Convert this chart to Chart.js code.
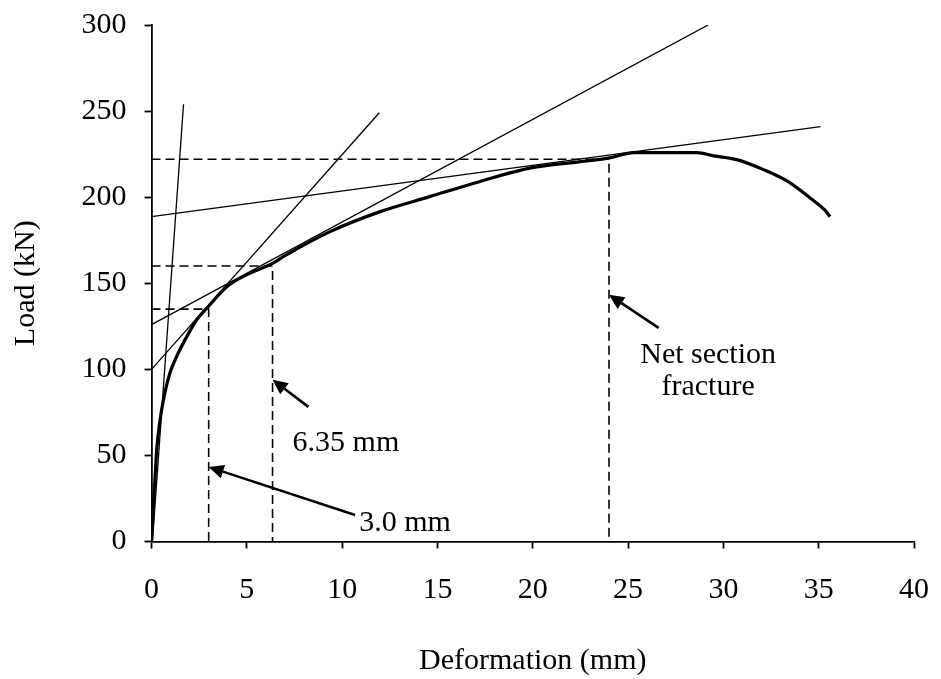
<!DOCTYPE html>
<html>
<head>
<meta charset="utf-8">
<script src="https://cdn.jsdelivr.net/npm/chart.js@4.4.1/dist/chart.umd.min.js"></script>
<style>
  html, body { margin: 0; padding: 0; background: #fff; }
  #wrap { width: 941px; height: 679px; }
</style>
</head>
<body>
<div id="wrap"><canvas id="myChart" width="941" height="679"></canvas></div>
<script>
// load - deformation curve
var deformation = [0, 0.1, 0.18, 0.27, 0.45, 0.62, 0.97, 1.32, 1.85, 2.37, 2.98, 3.95, 5.0, 6.35, 7.0, 9.37, 12.0, 14.6, 17.2, 19.9, 22.5, 24.1, 25.3, 28.6, 29.5, 30.7, 32.1, 33.4, 34.5, 35.3, 35.6];
var load = [0, 22, 36, 53, 70.6, 82, 98, 107.5, 119, 128.8, 136.5, 148, 155, 161.5, 166, 180, 191.6, 200.3, 209, 217, 220.6, 223, 225.9, 225.9, 224, 221.8, 216, 209, 200, 192.7, 188.7];

// straight construction lines (start / end)
var tangentX = [[0.05, 1.68], [0, 11.95], [0, 29.2], [0, 35.1]];
var tangentY = [[0, 254], [100, 249], [126, 300], [188.7, 241]];

// dashed markers: deformation and load where they meet
var markDeformation = [3.0, 6.35, 24];
var markLoad = [135, 160, 222];

var xTicks = [0, 5, 10, 15, 20, 25, 30, 35, 40];
var yTicks = [0, 50, 100, 150, 200, 250, 300];

// notes and arrows, in chart units
var noteText = ['6.35 mm', '3.0 mm', 'Net section', 'fracture'];
var noteX = [10.2, 13.3, 29.2, 29.2];
var noteY = [57, 10.5, 108.4, 89.8];
var arrowFromX = [8.23, 10.68, 26.6];
var arrowFromY = [78.2, 15.4, 124.1];
var arrowToX = [6.35, 3.0, 24.0];
var arrowToY = [94, 43.3, 143.3];

var serif = "'Liberation Serif', 'Times New Roman', serif";

function pts(xs, ys) {
  var out = [];
  for (var i = 0; i < xs.length; i++) out.push({ x: xs[i], y: ys[i] });
  return out;
}

var datasets = [];
datasets.push({
  data: pts(deformation, load),
  borderColor: '#000',
  borderWidth: 3.2,
  pointRadius: 0,
  cubicInterpolationMode: 'monotone'
});
for (var i = 0; i < tangentX.length; i++) {
  datasets.push({
    data: pts(tangentX[i], tangentY[i]),
    borderColor: '#000',
    borderWidth: 1.3,
    pointRadius: 0
  });
}
for (var j = 0; j < markDeformation.length; j++) {
  datasets.push({
    data: pts([0, markDeformation[j], markDeformation[j]], [markLoad[j], markLoad[j], 0]),
    borderColor: '#000',
    borderWidth: 1.6,
    borderDash: [9, 5],
    pointRadius: 0
  });
}

var notes = {
  id: 'notes',
  afterDraw: function (chart) {
    var ctx = chart.ctx, sx = chart.scales.x, sy = chart.scales.y;
    ctx.save();
    ctx.fillStyle = '#000';
    ctx.strokeStyle = '#000';
    ctx.font = '30px ' + serif;
    ctx.textAlign = 'center';
    ctx.textBaseline = 'middle';
    for (var i = 0; i < noteText.length; i++) {
      ctx.fillText(noteText[i], sx.getPixelForValue(noteX[i]), sy.getPixelForValue(noteY[i]));
    }
    for (var k = 0; k < arrowFromX.length; k++) {
      var x1 = sx.getPixelForValue(arrowFromX[k]), y1 = sy.getPixelForValue(arrowFromY[k]);
      var x2 = sx.getPixelForValue(arrowToX[k]), y2 = sy.getPixelForValue(arrowToY[k]);
      var a = Math.atan2(y2 - y1, x2 - x1);
      var len = 15, half = 7;
      var bx = x2 - len * Math.cos(a), by = y2 - len * Math.sin(a);
      ctx.lineWidth = 2.6;
      ctx.beginPath();
      ctx.moveTo(x1, y1);
      ctx.lineTo(bx, by);
      ctx.stroke();
      ctx.beginPath();
      ctx.moveTo(x2, y2);
      ctx.lineTo(bx + half * Math.sin(a), by - half * Math.cos(a));
      ctx.lineTo(bx - half * Math.sin(a), by + half * Math.cos(a));
      ctx.closePath();
      ctx.fill();
    }
    ctx.restore();
  }
};

var ctx = document.getElementById('myChart').getContext('2d');
var myChart = new Chart(ctx, {
  type: 'line',
  data: { datasets: datasets },
  options: {
    responsive: false,
    animation: false,
    devicePixelRatio: 1,
    layout: { padding: { top: 25, right: 27, bottom: 0, left: 0 } },
    plugins: { legend: { display: false }, tooltip: { enabled: false } },
    scales: {
      x: {
        type: 'linear',
        min: 0,
        max: 40,
        afterBuildTicks: function (s) { s.ticks = xTicks.map(function (v) { return { value: v }; }); },
        afterFit: function (s) { s.height = 137.5; s.paddingLeft = 0; s.paddingRight = 0; },
        grid: { drawOnChartArea: false, tickLength: 7, tickColor: '#000', tickWidth: 1.8 },
        border: { color: '#000', width: 1.8 },
        ticks: { color: '#000', padding: 24, maxRotation: 0, font: { family: serif, size: 30 } },
        title: { display: true, text: 'Deformation (mm)', color: '#000', padding: { top: 0, bottom: 0 }, font: { family: serif, size: 30 } }
      },
      y: {
        type: 'linear',
        min: 0,
        max: 300,
        afterBuildTicks: function (s) { s.ticks = yTicks.map(function (v) { return { value: v }; }); },
        afterFit: function (s) { s.width = 151.5; s.paddingTop = 0; s.paddingBottom = 0; },
        grid: { drawOnChartArea: false, tickLength: 7, tickColor: '#000', tickWidth: 1.8 },
        border: { color: '#000', width: 1.8 },
        ticks: { color: '#000', padding: 18, font: { family: serif, size: 30 } },
        title: { display: true, text: 'Load (kN)', color: '#000', padding: { top: 8, bottom: 0 }, font: { family: serif, size: 30 } }
      }
    }
  },
  plugins: [notes]
});
</script>
</body>
</html>
